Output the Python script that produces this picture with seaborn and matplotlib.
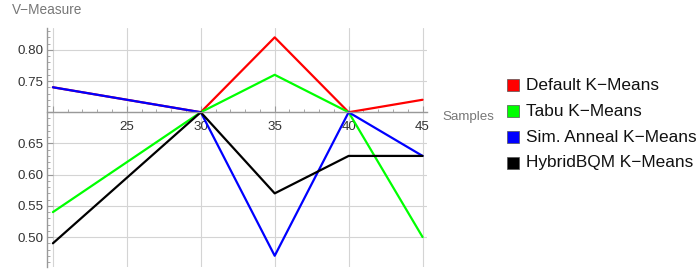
import numpy as np
import pandas as pd
import matplotlib
matplotlib.use("Agg")
import matplotlib.pyplot as plt
from matplotlib.ticker import MultipleLocator
from matplotlib.patches import Rectangle
import seaborn as sns

# ── data ─────────────────────────────────────────────────
samples   = [20, 30, 35, 40, 45]
default   = [0.74, 0.70, 0.82, 0.70, 0.72]
tabu      = [0.54, 0.70, 0.76, 0.70, 0.50]
sim_ann   = [0.74, 0.70, 0.47, 0.70, 0.63]
hybrid    = [0.49, 0.70, 0.57, 0.63, 0.63]

methods = ["Default K\u2212Means", "Tabu K\u2212Means",
           "Sim. Anneal K\u2212Means", "HybridBQM K\u2212Means"]
colors  = ["#ff0000", "#00ff00", "#0000ff", "#000000"]

df = pd.DataFrame({
    "Samples": samples * 4,
    "V-Measure": default + tabu + sim_ann + hybrid,
    "Method": np.repeat(methods, len(samples)),
})

# ── figure ───────────────────────────────────────────────
sns.set_style("white")
plt.rcParams["font.family"] = ["Liberation Sans", "DejaVu Sans"]

W, H = 699, 272
fig = plt.figure(figsize=(W / 100, H / 100), dpi=100)
x0, x1, y0, y1 = 47, 427, 28, 267          # axes box in pixels
ax = fig.add_axes([x0 / W, 1 - y1 / H, (x1 - x0) / W, (y1 - y0) / H])

sns.lineplot(data=df, x="Samples", y="V-Measure", hue="Method",
             hue_order=methods, palette=colors, linewidth=1.6,
             legend=False, ax=ax)

ax.set_xlim(19.6, 45.3)
ax.set_ylim(0.452, 0.835)
ax.set_xlabel("")
ax.set_ylabel("")

# axes crossing at y = 0.70, mathematica style
for s in ["top", "right"]:
    ax.spines[s].set_visible(False)
ax.spines["bottom"].set_position(("data", 0.70))
for s in ["left", "bottom"]:
    ax.spines[s].set_color("#999999")
    ax.spines[s].set_linewidth(1.0)

ax.set_xticks([20, 25, 30, 35, 40, 45])
ax.set_xticklabels(["", "25", "30", "35", "40", "45"])
ax.set_yticks([0.50, 0.55, 0.60, 0.65, 0.70, 0.75, 0.80])
ax.set_yticklabels(["0.50", "0.55", "0.60", "0.65", "", "0.75", "0.80"])
ax.xaxis.set_minor_locator(MultipleLocator(1))
ax.yaxis.set_minor_locator(MultipleLocator(0.01))
ax.tick_params(which="major", direction="in", length=4, width=0.8,
               color="#999999", labelsize=9.6, labelcolor="#333333")
ax.tick_params(which="minor", direction="in", length=2, width=0.6,
               color="#999999")
ax.tick_params(axis="x", which="major", pad=6.5)
ax.tick_params(axis="y", which="major", pad=2.5)
ax.tick_params(axis="y", which="both", left=True)
ax.tick_params(axis="x", which="both", bottom=True)

ax.grid(True, which="major", color="#d4d4d4", linewidth=0.8)
ax.set_axisbelow(True)

# axis labels
fig.text(12 / W, 1 - 10 / H, "V\u2212Measure", fontsize=9.8, color="#777777",
         va="center", ha="left")
fig.text(442 / W, 1 - 117 / H, "Samples", fontsize=9.6, color="#777777",
         va="center", ha="left")

# legend, drawn by hand
for i, (name, c) in enumerate(zip(methods, colors)):
    yc = 85 + i * 26
    fig.patches.append(Rectangle((507 / W, 1 - (yc + 6) / H), 12 / W, 12 / H,
                                 transform=fig.transFigure, facecolor=c,
                                 edgecolor="#555555", linewidth=0.5))
    fig.text(526 / W, 1 - yc / H, name, fontsize=12.4, color="#111111",
             va="center", ha="left")

fig.savefig("out.png", dpi=100)
